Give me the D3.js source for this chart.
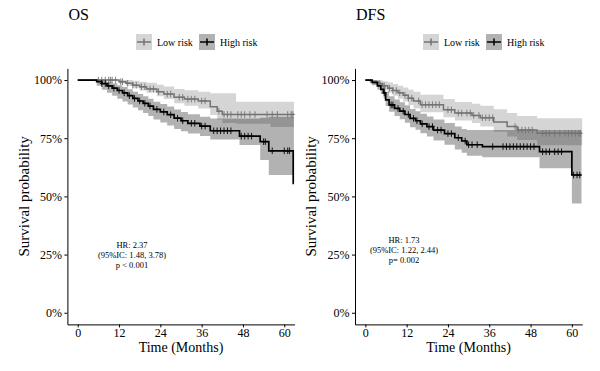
<!DOCTYPE html>
<html>
<head>
<meta charset="utf-8">
<script src="https://d3js.org/d3.v7.min.js"></script>
<style>
  body { margin: 0; background: #fff; }
  text { font-family: "Liberation Serif", "Times New Roman", serif; fill: #000; }
</style>
</head>
<body>
<div id="chart"></div>
<script>
// ---- data ----
var xTicks = [0, 12, 24, 36, 48, 60];
var yTicks = [0, 0.25, 0.5, 0.75, 1];
var groups = ["Low risk", "High risk"];

// OS, low risk
var osLowTime  = [0, 12, 14, 16, 18, 20, 23, 25, 28, 31, 35, 38.5, 40.5, 42, 46, 56, 62.8];
var osLowSurv  = [1, .993, .986, .978, .971, .962, .95, .94, .926, .918, .91, .885, .866, .852, .852, .852, .852];
var osLowUpper = [1, 1, 1, .997, .993, .988, .98, .972, .962, .956, .95, .943, .943, .943, .907, .907, .907];
var osLowLower = [1, .985, .975, .965, .955, .945, .93, .918, .9, .89, .878, .85, .83, .815, .812, .798, .798];
var osLowCens  = [6, 7, 8, 9, 9.5, 10, 11, 12.5, 13, 14.5, 16, 17, 18.5, 19.5, 21, 22, 23.5, 26, 27, 29.5, 30.5, 32, 33, 34, 36, 37,
                  41, 42.5, 43.5, 44.5, 46.5, 47.5, 48.5, 50, 51.5, 55, 56.5, 58, 61, 62, 62.5];
// OS, high risk
var osHighTime  = [0, 5.5, 7, 8.5, 10, 11.5, 13, 14.5, 16, 17.5, 19, 20.5, 22, 24, 26, 28, 30, 32, 35.5, 38.5, 47, 53, 55.5, 62.6, 62.8];
var osHighSurv  = [1, .993, .985, .975, .965, .955, .945, .933, .921, .91, .9, .888, .874, .863, .851, .836, .825, .814, .802, .782, .759, .735, .696, .556, .556];
var osHighUpper = [1, 1, .998, .993, .986, .978, .97, .96, .95, .94, .93, .92, .907, .897, .886, .873, .863, .853, .842, .835, .835, .838, .842, .842, .842];
var osHighLower = [1, .975, .958, .945, .932, .92, .908, .895, .882, .87, .858, .845, .83, .818, .805, .79, .78, .77, .76, .745, .721, .656, .592, .592, .592];
var osHighCens  = [7, 8, 9, 10.5, 12, 13.5, 15, 16.5, 18, 19.5, 21, 23, 25, 27, 29, 30.5, 33, 34, 36, 37, 39.5, 40.5, 41.5, 42.5, 43.5, 44.5,
                   47.5, 48.5, 49.5, 50.5, 54, 54.5, 56.5, 60, 61, 61.5];

// DFS, low risk
var dfsLowTime  = [0, 1.5, 3.4, 5, 6.5, 8, 9.5, 11, 12.5, 14, 16, 22.7, 26, 31, 33.4, 37.3, 41.2, 44.1, 49.9, 63];
var dfsLowSurv  = [1, .993, .985, .975, .965, .955, .945, .935, .922, .91, .894, .872, .858, .848, .838, .82, .8, .785, .771, .771];
var dfsLowUpper = [1, 1, 1, .995, .99, .983, .975, .968, .958, .95, .937, .918, .906, .898, .89, .874, .858, .846, .836, .836];
var dfsLowLower = [1, .982, .97, .958, .945, .932, .92, .908, .893, .878, .862, .84, .826, .815, .8, .778, .757, .742, .72, .72];
var dfsLowCens  = [4, 5.5, 7, 8, 9, 10, 11.5, 12.5, 13.5, 15.5, 16.5, 17.5, 18.5, 19.5, 20.5, 21.5, 24, 25, 27, 28, 29.5, 30.5, 31.5, 33,
                   34, 35, 36, 37, 43.5, 44.5, 45.5, 46.5, 47.5, 48.5, 51.5, 52.5, 53.5, 55, 56.5, 58, 59, 60, 61, 62, 62.5];
// DFS, high risk
var dfsHighTime  = [0, 2, 3.5, 4.5, 5.3, 5.9, 6.9, 8.5, 10, 11.5, 13, 14.6, 16, 17.9, 19.8, 23, 26, 28, 29.5, 34, 50.6, 60, 62.8];
var dfsHighSurv  = [1, .99, .975, .96, .945, .915, .893, .878, .866, .852, .835, .825, .812, .8, .785, .77, .752, .738, .722, .714, .692, .592, .592];
var dfsHighUpper = [1, 1, .995, .985, .975, .95, .93, .916, .905, .892, .876, .866, .855, .843, .83, .815, .8, .79, .785, .785, .785, .785, .785];
var dfsHighLower = [1, .978, .958, .94, .922, .888, .864, .846, .832, .816, .797, .786, .771, .757, .74, .722, .702, .688, .675, .668, .621, .47, .47];
var dfsHighCens  = [5.5, 7.5, 8, 9.5, 11, 12.5, 14, 15, 16.5, 18.5, 19.5, 21, 22, 24, 25, 27, 29, 30, 31, 32.5, 37, 40, 41, 42, 43, 44,
                    45, 46, 47, 48, 49, 51.5, 52.5, 53.5, 55, 56, 57, 60.5, 61.5, 62.3];

var osNote  = ["HR: 2.37", "(95%IC: 1.48, 3.78)", "p < 0.001"];
var dfsNote = ["HR: 1.73", "(95%IC: 1.22, 2.44)", "p= 0.002"];

// ---- drawing ----
var colors = ["#737373", "#000000"];
var svg = d3.select("#chart").append("svg").attr("width", 600).attr("height", 371);
svg.append("rect").attr("width", 600).attr("height", 371).attr("fill", "#fff");

function series(time, surv, upper, lower, cens) {
  var pts = time.map(function(t, i) { return { t: t, s: surv[i], hi: upper[i], lo: lower[i] }; });
  return { pts: pts, cens: cens };
}

var panels = [
  { title: "OS", left: 67.4, right: 294.6, note: osNote, noteX: 132, noteY: 248, legendX: 136,
    strata: [series(osLowTime, osLowSurv, osLowUpper, osLowLower, osLowCens),
             series(osHighTime, osHighSurv, osHighUpper, osHighLower, osHighCens)] },
  { title: "DFS", left: 355, right: 582.2, note: dfsNote, noteX: 404, noteY: 243, legendX: 423,
    strata: [series(dfsLowTime, dfsLowSurv, dfsLowUpper, dfsLowLower, dfsLowCens),
             series(dfsHighTime, dfsHighSurv, dfsHighUpper, dfsHighLower, dfsHighCens)] }
];

var plotTop = 68.4, plotBottom = 324.4;

panels.forEach(function(p) {
  var x = d3.scaleLinear().domain([-3, 63]).range([p.left, p.right]);
  var y = d3.scaleLinear().domain([-0.05, 1.05]).range([plotBottom, plotTop]);
  var g = svg.append("g");

  var area = d3.area().curve(d3.curveStepAfter)
    .x(function(d) { return x(d.t); })
    .y0(function(d) { return y(d.lo); })
    .y1(function(d) { return y(d.hi); });
  var line = d3.line().curve(d3.curveStepAfter)
    .x(function(d) { return x(d.t); })
    .y(function(d) { return y(d.s); });

  p.strata.forEach(function(st, i) {
    g.append("path").attr("d", area(st.pts)).attr("fill", colors[i]).attr("fill-opacity", 0.3);
  });
  p.strata.forEach(function(st, i) {
    g.append("path").attr("d", line(st.pts)).attr("fill", "none")
      .attr("stroke", colors[i]).attr("stroke-width", i ? 1.7 : 1.5);
    var times = st.pts.map(function(d) { return d.t; });
    st.cens.forEach(function(c) {
      var k = d3.bisectRight(times, c) - 1;
      var cx = x(c), cy = y(st.pts[Math.max(k, 0)].s);
      g.append("path").attr("d", "M" + cx + "," + (cy - 3.3) + "V" + (cy + 3.3) + "M" + (cx - 2) + "," + cy + "H" + (cx + 2))
        .attr("stroke", colors[i]).attr("stroke-width", 0.9).attr("fill", "none");
    });
  });

  // axes
  var xAxis = d3.axisBottom(x).tickValues(xTicks).tickSize(3).tickSizeOuter(0).tickPadding(1);
  var yAxis = d3.axisLeft(y).tickValues(yTicks).tickSize(3).tickSizeOuter(0).tickPadding(2.5)
    .tickFormat(d3.format(".0%"));
  var ax = svg.append("g").attr("transform", "translate(0," + plotBottom + ")").call(xAxis);
  var ay = svg.append("g").attr("transform", "translate(" + p.left + ",0)").call(yAxis);
  [ax, ay].forEach(function(a) {
    a.selectAll("path, line").attr("stroke", "#000").attr("stroke-width", 1);
    a.selectAll("text").attr("font-family", "Liberation Serif").attr("font-size", 12).attr("fill", "#000");
  });

  // titles
  svg.append("text").attr("x", p.left + 1).attr("y", 20).attr("font-size", 16).text(p.title);
  svg.append("text").attr("x", (p.left + p.right) / 2).attr("y", 352).attr("text-anchor", "middle")
    .attr("font-size", 14).text("Time (Months)");
  svg.append("text").attr("transform", "translate(" + (p.left - 44) + "," + ((plotTop + plotBottom) / 2) + ") rotate(-90)")
    .attr("text-anchor", "middle").attr("dy", "0.35em").attr("font-size", 15).text("Survival probability");

  // annotation
  p.note.forEach(function(s, i) {
    svg.append("text").attr("x", p.noteX).attr("y", p.noteY + i * 10).attr("text-anchor", "middle")
      .attr("font-size", 8.5).text(s);
  });

  // legend
  var lg = svg.append("g").attr("transform", "translate(" + p.legendX + ",34)");
  var offs = [0, 63];
  groups.forEach(function(name, i) {
    var k = lg.append("g").attr("transform", "translate(" + offs[i] + ",0)");
    k.append("rect").attr("width", 16).attr("height", 16).attr("fill", colors[i]).attr("fill-opacity", 0.3);
    k.append("path").attr("d", "M1,8H15M8,4.5V11.5").attr("stroke", colors[i]).attr("stroke-width", 1.5);
    k.append("text").attr("x", 21).attr("y", 11.5).attr("font-size", 10).text(name);
  });
});
</script>
</body>
</html>
